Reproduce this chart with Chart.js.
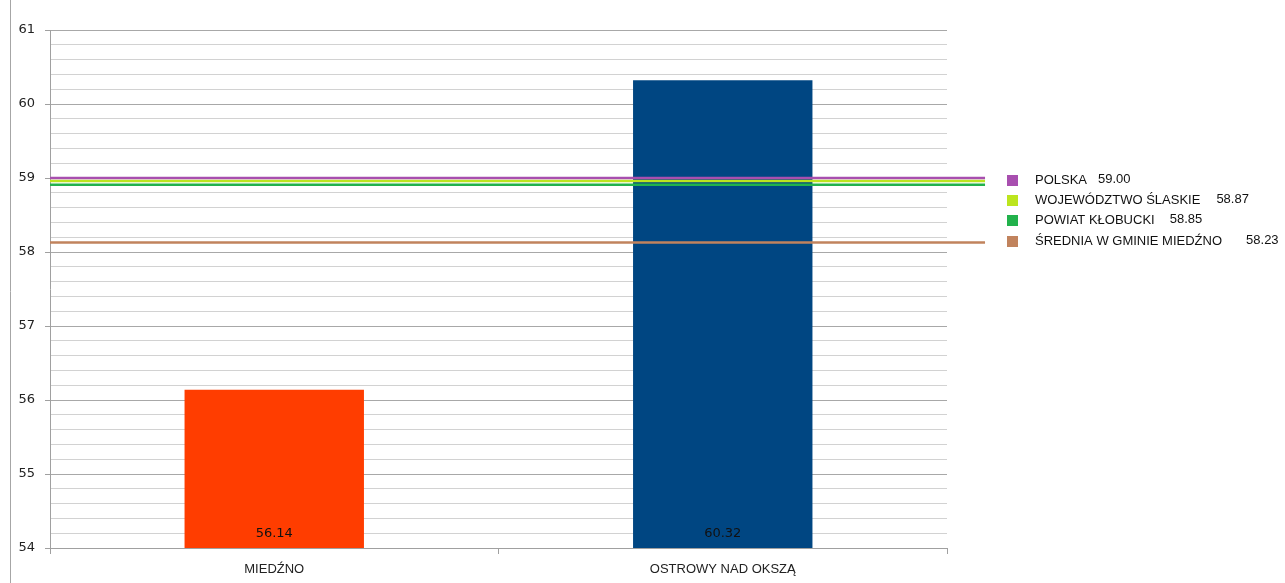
<!DOCTYPE html>
<html><head><meta charset="utf-8">
<script src="https://cdn.jsdelivr.net/npm/chart.js@4"></script>
<style>html,body{margin:0;padding:0;background:#fff}#wrap{width:1285px;height:583px;position:relative}</style>
</head><body><div id="wrap"><canvas id="c" width="1285" height="583"></canvas></div>
<script>
const categories = ['MIEDŹNO', 'OSTROWY NAD OKSZĄ'];
const barValues = [56.14, 60.32];
const barColors = ['#FF3D00', '#004682'];
const refNames = ['POLSKA', 'WOJEWÓDZTWO ŚLASKIE', 'POWIAT KŁOBUCKI', 'ŚREDNIA W GMINIE MIEDŹNO'];
const refLabels = ['59.00', '58.87', '58.85', '58.23'];
const refLineLevels = [59.00, 58.96, 58.91, 58.13];
const refColors = ['#A84FAF', '#BCE51E', '#22B24C', '#C1835D'];
const yMin = 54, yMax = 61;

const lineSets = refNames.map((n, i) => ({
  type: 'line', label: n, xAxisID: 'xl',
  data: [{x: 0, y: refLineLevels[i]}, {x: 1.0424, y: refLineLevels[i]}],
  borderColor: refColors[i], borderWidth: 2.5, pointRadius: 0, clip: false, order: 1
}));

const extras = {
  id: 'extras',
  beforeDraw(chart) {
    const ctx = chart.ctx;
    ctx.save();
    ctx.strokeStyle = '#a6a6a6'; ctx.lineWidth = 1;
    ctx.beginPath(); ctx.moveTo(10.5, 0); ctx.lineTo(10.5, 583); ctx.stroke();
    ctx.restore();
  },
  afterDatasetsDraw(chart) {
    const ctx = chart.ctx;
    const y = chart.scales.y;
    ctx.save();
    const meta = chart.getDatasetMeta(0);
    ctx.font = '13px "DejaVu Sans"';
    ctx.fillStyle = '#111';
    ctx.textAlign = 'center'; ctx.textBaseline = 'middle';
    meta.data.forEach((el, i) => {
      ctx.fillText(barValues[i].toFixed(2), el.x, y.bottom - 14);
    });
    const rows = [180, 200, 220, 241];
    const gaps = [11, 16, 15, 24];
    ctx.textAlign = 'left';
    ctx.font = '13px "Liberation Sans"';
    refNames.forEach((n, i) => {
      ctx.fillStyle = refColors[i];
      ctx.fillRect(1007, rows[i] - 5, 11, 11);
      ctx.fillStyle = '#111';
      ctx.fillText(n, 1035, rows[i]);
      const w = ctx.measureText(n).width;
      ctx.fillText(refLabels[i], 1035 + w + gaps[i], rows[i] - 1);
    });
    ctx.restore();
  }
};

new Chart(document.getElementById('c'), {
  type: 'bar',
  data: {
    labels: categories,
    datasets: [
      { type: 'bar', data: barValues, backgroundColor: barColors, barPercentage: 0.4, categoryPercentage: 1, grouped: false, order: 2 },
      ...lineSets
    ]
  },
  options: {
    responsive: false, animation: false,
    layout: { padding: { left: 10, right: 338, top: 30, bottom: 0 } },
    plugins: { legend: { display: false }, tooltip: { enabled: false } },
    scales: {
      x: {
        type: 'category', offset: true,
        grid: { display: true, drawOnChartArea: false, offset: true, tickLength: 6, color: '#a0a0a0' },
        border: { color: '#a0a0a0' },
        ticks: { color: '#222', font: { family: 'Liberation Sans', size: 13 }, padding: 8, maxRotation: 0 },
        afterFit(s) { s.height = 35; }
      },
      xl: { type: 'linear', display: false, min: 0, max: 1, offset: false, grid: { offset: false } },
      y: {
        min: yMin, max: yMax,
        ticks: {
          stepSize: 0.2, autoSkip: false, color: '#222', padding: 10,
          font: { family: 'DejaVu Sans', size: 13 },
          callback: (v) => Math.abs(v - Math.round(v)) < 1e-6 ? String(Math.round(v)) : ''
        },
        grid: {
          tickLength: 5,
          color: (c) => Math.abs(c.tick.value - Math.round(c.tick.value)) < 1e-6 ? '#a8a8a8' : '#d2d2d2',
          tickColor: (c) => Math.abs(c.tick.value - Math.round(c.tick.value)) < 1e-6 ? '#a0a0a0' : 'rgba(0,0,0,0)'
        },
        border: { color: '#a0a0a0' },
        afterFit(s) { s.width = 40; }
      }
    }
  },
  plugins: [extras]
});
</script></body></html>
